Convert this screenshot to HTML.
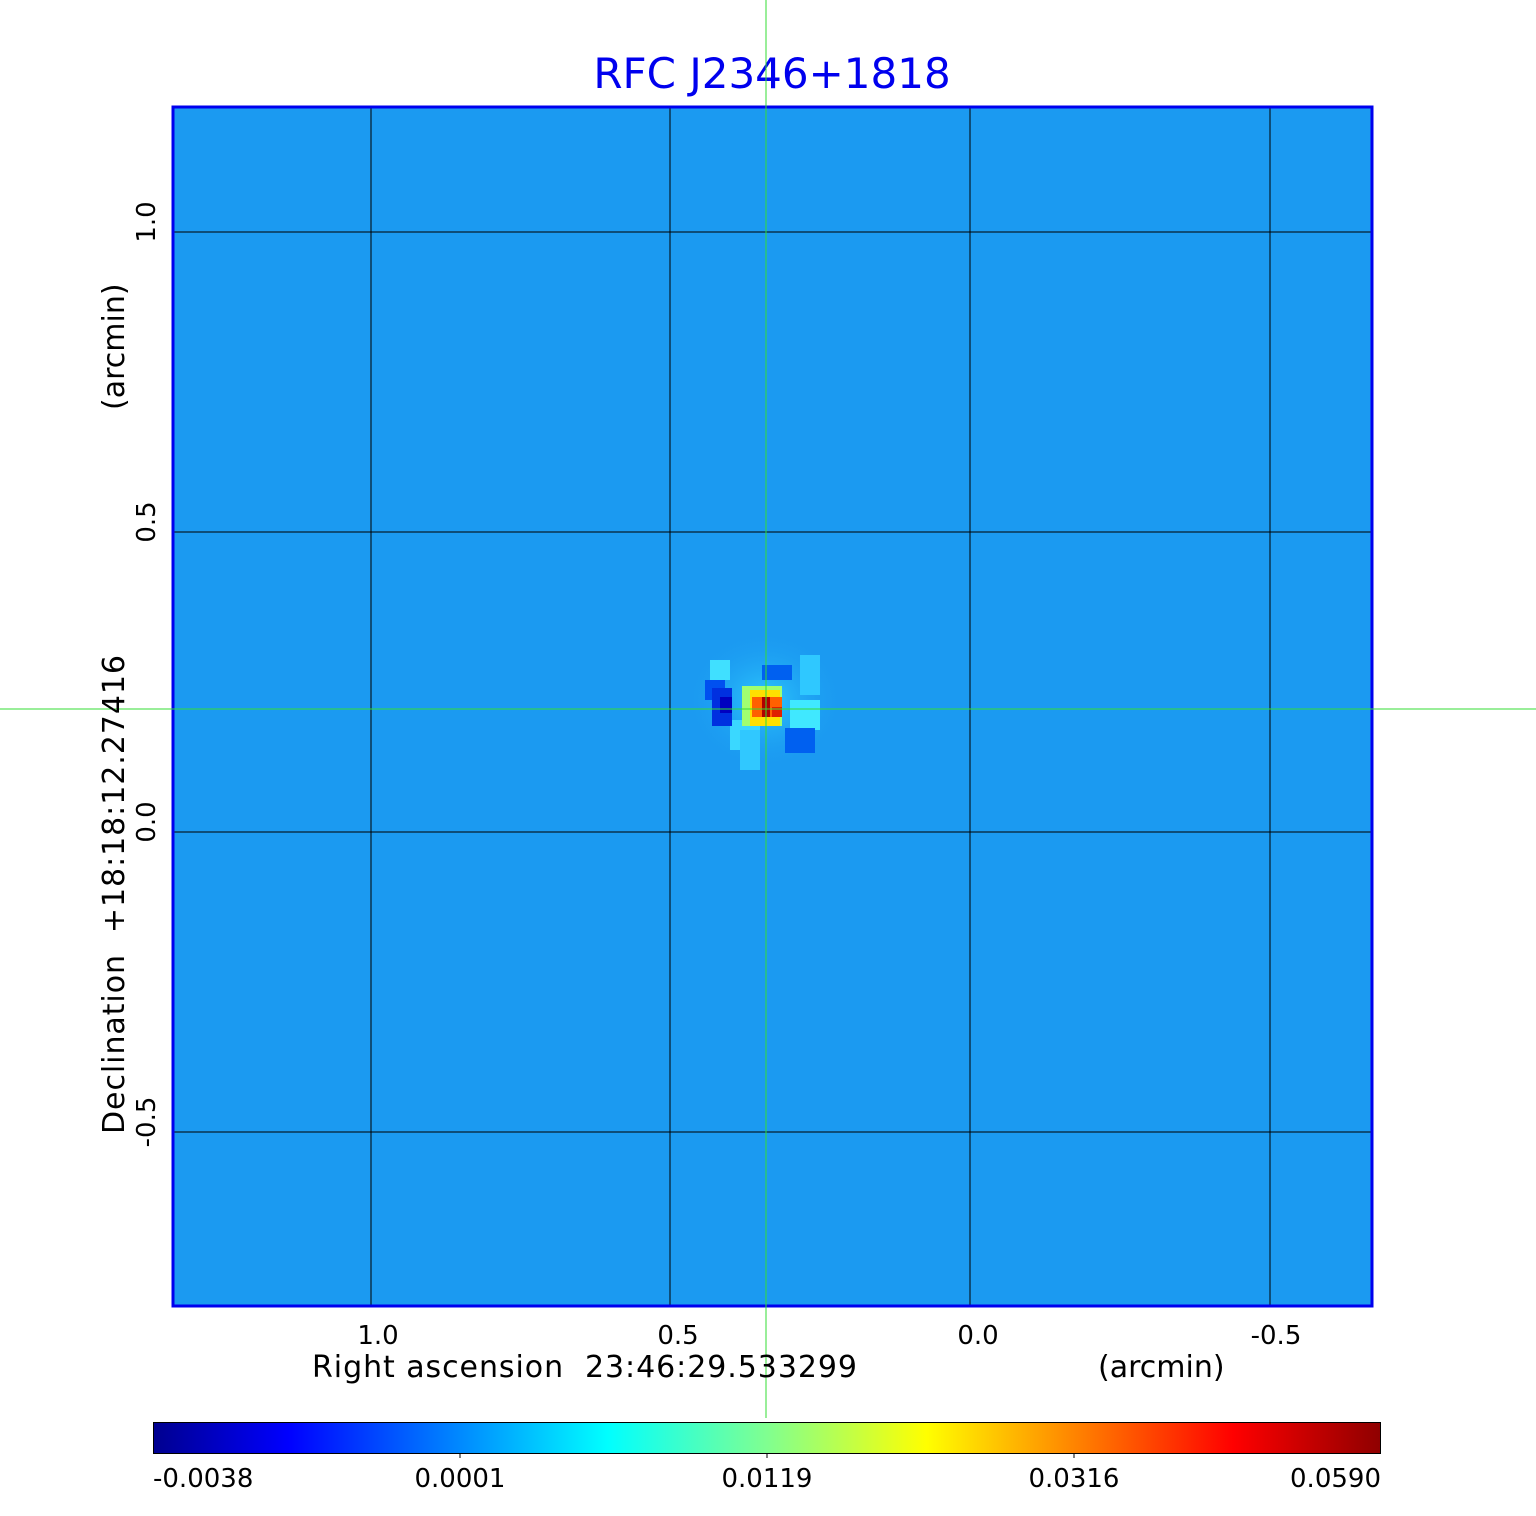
<!DOCTYPE html>
<html><head><style>
body{margin:0;background:#fff;}
text{font-family:"DejaVu Sans","Liberation Sans",sans-serif;white-space:pre;}
</style></head><body>
<svg width="1536" height="1511" xmlns="http://www.w3.org/2000/svg" xml:space="preserve">
<defs>
<linearGradient id="jet" x1="0" x2="1" y1="0" y2="0">
<stop offset="0" stop-color="#00008f"/>
<stop offset="0.11" stop-color="#0000ff"/>
<stop offset="0.37" stop-color="#00ffff"/>
<stop offset="0.5" stop-color="#80ff90"/>
<stop offset="0.63" stop-color="#ffff00"/>
<stop offset="0.88" stop-color="#ff0000"/>
<stop offset="1" stop-color="#8f0000"/>
</linearGradient>
<radialGradient id="glow" cx="0.5" cy="0.5" r="0.5">
<stop offset="0" stop-color="#30d0ff" stop-opacity="0.9"/>
<stop offset="1" stop-color="#1a9af0" stop-opacity="0"/>
</radialGradient>
</defs>
<text x="772" y="88" font-size="42" fill="#0000ee" text-anchor="middle">RFC J2346+1818</text>
<rect x="172" y="106" width="1201" height="1201" fill="#1b9af1"/>
<ellipse cx="765" cy="700" rx="80" ry="70" fill="url(#glow)"/>
<g>
<rect x="710" y="660" width="20" height="20" fill="#40e0ff"/>
<rect x="800" y="655" width="20" height="40" fill="#2fc8ff"/>
<rect x="790" y="700" width="30" height="30" fill="#40e8ff"/>
<rect x="730" y="720" width="30" height="30" fill="#3ad8ff"/>
<rect x="740" y="730" width="20" height="40" fill="#30c8ff"/>
<rect x="705" y="680" width="20" height="20" fill="#0050f0"/>
<rect x="712" y="688" width="20" height="38" fill="#0030e0"/>
<rect x="720" y="697" width="12" height="16" fill="#0000c0"/>
<rect x="762" y="665" width="30" height="15" fill="#0060f0"/>
<rect x="785" y="728" width="30" height="25" fill="#0060f0"/>
<rect x="742" y="686" width="40" height="40" fill="#a0ff70"/>
<rect x="750" y="690" width="30" height="36" fill="#ffe000"/>
<rect x="752" y="697" width="30" height="20" fill="#ff6000"/>
<rect x="762" y="697" width="8" height="20" fill="#b00000"/>
<rect x="772" y="707" width="10" height="10" fill="#e02000"/>
</g>
<g stroke="#000" stroke-width="1">
<line x1="371" y1="106" x2="371" y2="1307"/>
<line x1="670" y1="106" x2="670" y2="1307"/>
<line x1="970" y1="106" x2="970" y2="1307"/>
<line x1="1270" y1="106" x2="1270" y2="1307"/>
<line x1="172" y1="232" x2="1373" y2="232"/>
<line x1="172" y1="532" x2="1373" y2="532"/>
<line x1="172" y1="832" x2="1373" y2="832"/>
<line x1="172" y1="1132" x2="1373" y2="1132"/>
</g>
<rect x="173" y="107" width="1199" height="1199" fill="none" stroke="#0000ee" stroke-width="3"/>
<line x1="766" y1="0" x2="766" y2="1418" stroke="#33dd33" stroke-width="1"/>
<line x1="0" y1="709" x2="1536" y2="709" stroke="#33dd33" stroke-width="1"/>
<g font-size="26" fill="#000" text-anchor="middle">
<text x="378" y="1344">1.0</text>
<text x="678" y="1344">0.5</text>
<text x="978" y="1344">0.0</text>
<text x="1276" y="1344">-0.5</text>
</g>
<text x="312" y="1377" font-size="30" fill="#000" textLength="545">Right ascension  23:46:29.533299</text>
<text x="1098" y="1377" font-size="30" fill="#000">(arcmin)</text>
<g font-size="26" fill="#000" text-anchor="middle">
<text transform="translate(155,222) rotate(-90)">1.0</text>
<text transform="translate(155,522) rotate(-90)">0.5</text>
<text transform="translate(155,822) rotate(-90)">0.0</text>
<text transform="translate(155,1122) rotate(-90)">-0.5</text>
</g>
<text transform="translate(124,1134) rotate(-90)" font-size="30" fill="#000" textLength="479">Declination  +18:18:12.27416</text>
<text transform="translate(124,410) rotate(-90)" font-size="30" fill="#000">(arcmin)</text>
<rect x="153.5" y="1422.5" width="1227" height="31" fill="url(#jet)" stroke="#000" stroke-width="1"/>
<g stroke="#000"><line x1="460" y1="1453" x2="460" y2="1458"/><line x1="767" y1="1453" x2="767" y2="1458"/><line x1="1074" y1="1453" x2="1074" y2="1458"/></g>
<g font-size="26" fill="#000">
<text x="153" y="1487">-0.0038</text>
<text x="460" y="1487" text-anchor="middle">0.0001</text>
<text x="767" y="1487" text-anchor="middle">0.0119</text>
<text x="1074" y="1487" text-anchor="middle">0.0316</text>
<text x="1381" y="1487" text-anchor="end">0.0590</text>
</g>
</svg>
</body></html>
